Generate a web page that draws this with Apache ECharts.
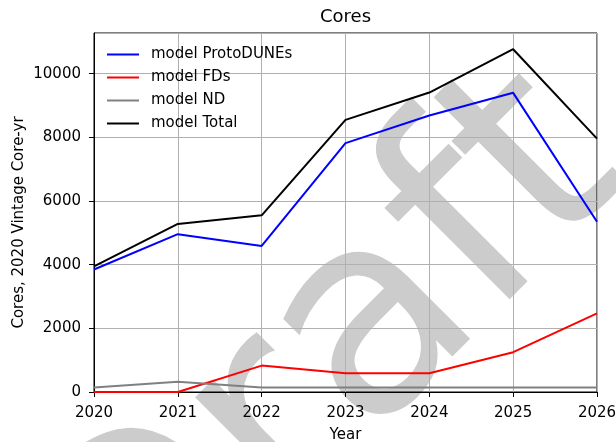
<!DOCTYPE html>
<html>
<head>
<meta charset="utf-8">
<script src="https://cdn.jsdelivr.net/npm/echarts@6/dist/echarts.min.js"></script>
<style>
  html, body { margin: 0; padding: 0; background: #fff; }
  #chart { width: 616px; height: 442px; }
</style>
</head>
<body>
<div id="chart"></div>
<script>
// values
const years = [2020, 2021, 2022, 2023, 2024, 2025, 2026]
const protoDUNEs = [3850, 4960, 4590, 7820, 8690, 9400, 5350]
const fds = [0, 0, 830, 590, 590, 1250, 2470]
const nd = [140, 320, 140, 140, 140, 140, 140]
const total = [3950, 5280, 5550, 8550, 9410, 10770, 7960]

const seriesNames = ['model ProtoDUNEs', 'model FDs', 'model ND', 'model Total']
const seriesColors = ['#0000ff', '#ff0000', '#808080', '#000000']
const seriesValues = [protoDUNEs, fds, nd, total]

const font = 'DejaVu Sans'

const chart = echarts.init(document.getElementById('chart'))

// pair each value with its year for the value x axis
const toPoints = vals => vals.map((v, i) => [years[i], v])

const option = {
  animation: false,
  backgroundColor: '#fff',
  textStyle: { fontFamily: font },
  title: {
    text: 'Cores',
    left: 320,
    top: 8,
    padding: 0,
    textStyle: { fontSize: 18, fontWeight: 'normal', color: '#000', fontFamily: font }
  },
  legend: {
    orient: 'vertical',
    left: 107,
    top: 47,
    padding: 0,
    icon: 'rect',
    itemWidth: 32,
    itemHeight: 2,
    itemGap: 8,
    textStyle: { fontSize: 15, color: '#000', fontFamily: font, padding: [0, 0, 0, 7] },
    data: seriesNames
  },
  graphic: [
    {
      // "Draft" watermark
      type: 'text',
      x: 331,
      y: 375,
      rotation: Math.PI / 4,
      z: -10,
      silent: true,
      style: {
        text: 'Draft',
        font: '280px "DejaVu Sans"',
        fill: '#cccccc',
        align: 'center',
        verticalAlign: 'middle'
      }
    }
  ],
  grid: {
    left: 94,
    right: 19,
    top: 33,
    bottom: 50,
    outerBoundsMode: 'none',
    show: true,
    borderColor: '#000',
    borderWidth: 1,
    backgroundColor: 'transparent'
  },
  xAxis: {
    type: 'value',
    min: 2020,
    max: 2026,
    interval: 1,
    name: 'Year',
    nameLocation: 'middle',
    nameGap: 36,
    nameMoveOverlap: false,
    nameTextStyle: { fontSize: 15, color: '#000', fontFamily: font },
    axisLine: { show: true, lineStyle: { color: '#000', width: 1 } },
    axisTick: { show: true, length: 5, lineStyle: { color: '#000' } },
    axisLabel: {
      fontSize: 15,
      color: '#000',
      margin: 14,
      formatter: v => String(v)
    },
    splitLine: { show: true, lineStyle: { color: '#b0b0b0', width: 1 } }
  },
  yAxis: {
    type: 'value',
    min: 0,
    max: 11280,
    interval: 2000,
    name: 'Cores, 2020 Vintage Core-yr',
    nameLocation: 'middle',
    nameGap: 67,
    nameMoveOverlap: false,
    nameTextStyle: { fontSize: 15, color: '#000', fontFamily: font, padding: [0, 20, 0, 0] },
    axisLine: { show: true, lineStyle: { color: '#000', width: 1 } },
    axisTick: { show: true, length: 5, lineStyle: { color: '#000' } },
    axisLabel: {
      fontSize: 15,
      color: '#000',
      margin: 13,
      showMaxLabel: false,
      formatter: v => String(v)
    },
    splitLine: { show: true, lineStyle: { color: '#b0b0b0', width: 1 } }
  },
  series: seriesNames.map((name, i) => ({
    name: name,
    type: 'line',
    symbol: 'none',
    data: toPoints(seriesValues[i]),
    lineStyle: { color: seriesColors[i], width: 2 },
    itemStyle: { color: seriesColors[i] },
    z: 2 + i
  }))
}

chart.setOption(option)
</script>
</body>
</html>
